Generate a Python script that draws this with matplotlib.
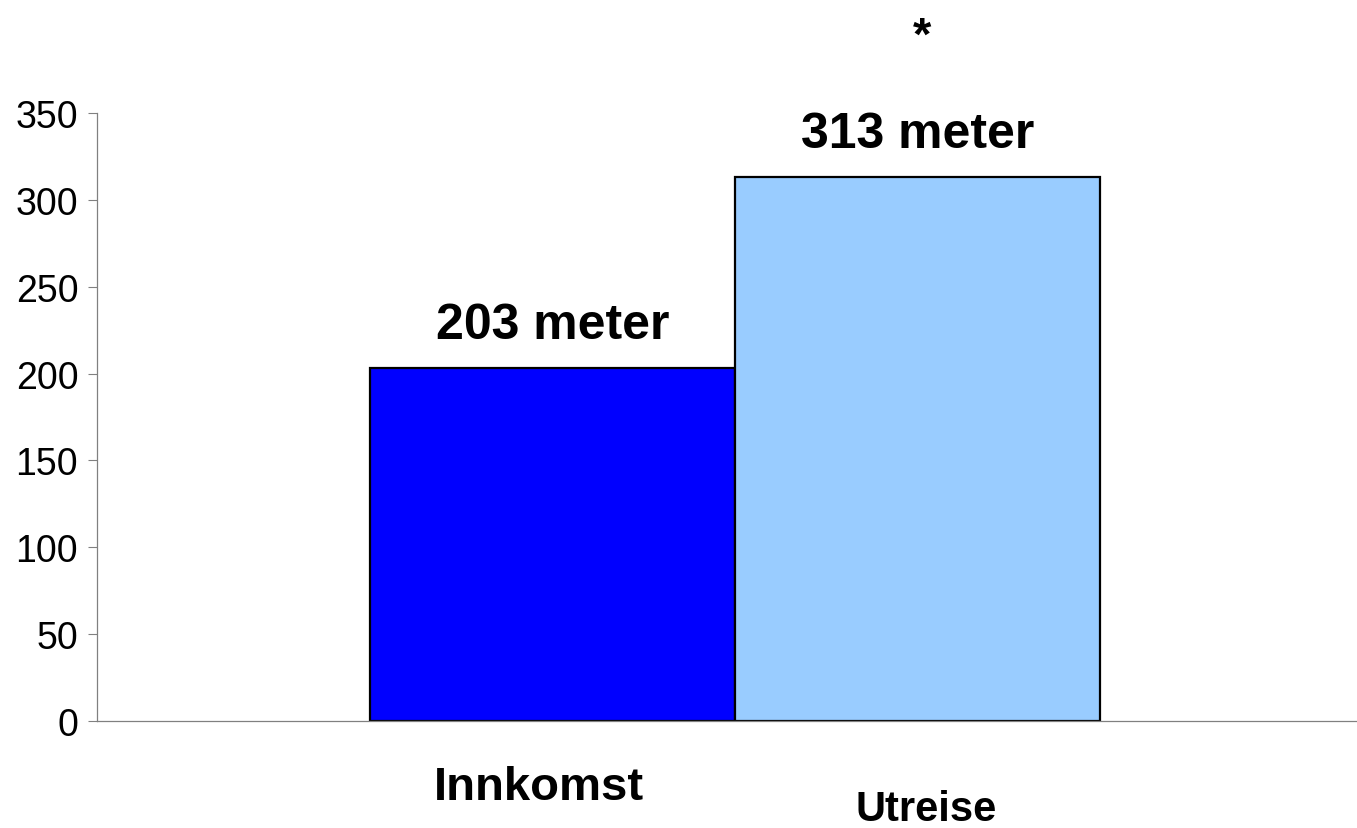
import matplotlib.pyplot as plt

# Data
kategorier = ['Innkomst', 'Utreise']
verdier = [203, 313]
etiketter = ['203 meter', '313 meter']
farger = ['#0000FF', '#99CCFF']

plt.rcParams['font.family'] = ['Liberation Sans', 'DejaVu Sans']

fig = plt.figure(figsize=(13.57, 8.29), dpi=100)
ax = fig.add_axes([97 / 1357, 1 - 722 / 829, 1 - 97 / 1357, (722 - 114) / 829])

pos = list(range(len(kategorier)))
ax.bar(pos, verdier, width=1.0, color=farger, edgecolor='black', linewidth=1.6)

ax.set_xlim(-1.248, 2.204)
ax.set_ylim(0, 350)
ax.set_yticks(range(0, 351, 50))
ax.tick_params(axis='y', direction='out', length=6.5, width=0.8, color='#808080',
               labelsize=27, pad=7)
ax.set_xticks([])

for s in ['top', 'right']:
    ax.spines[s].set_visible(False)
for s in ['left', 'bottom']:
    ax.spines[s].set_color('#808080')
    ax.spines[s].set_linewidth(0.9)

# verdi-etiketter over stolpene
for p, v, txt in zip(pos, verdier, etiketter):
    ax.annotate(txt, xy=(p, v), xytext=(0, 22), textcoords='offset points',
                ha='center', va='baseline', fontsize=36, fontweight='bold')

# kategori-etiketter under aksen
ax.annotate(kategorier[0], xy=(pos[0], 0), xycoords=('data', 'axes fraction'),
            xytext=(-10, -56), textcoords='offset points',
            ha='center', va='baseline', fontsize=34, fontweight='bold')
ax.annotate(kategorier[1], xy=(pos[1], 0), xycoords=('data', 'axes fraction'),
            xytext=(6, -71), textcoords='offset points',
            ha='center', va='baseline', fontsize=30, fontweight='bold')

# signifikans-stjerne
ax.annotate('*', xy=(pos[1], 1), xycoords=('data', 'axes fraction'),
            xytext=(3, 46), textcoords='offset points',
            ha='center', va='baseline', fontsize=34, fontweight='bold')

fig.savefig('out.png', dpi=100)
